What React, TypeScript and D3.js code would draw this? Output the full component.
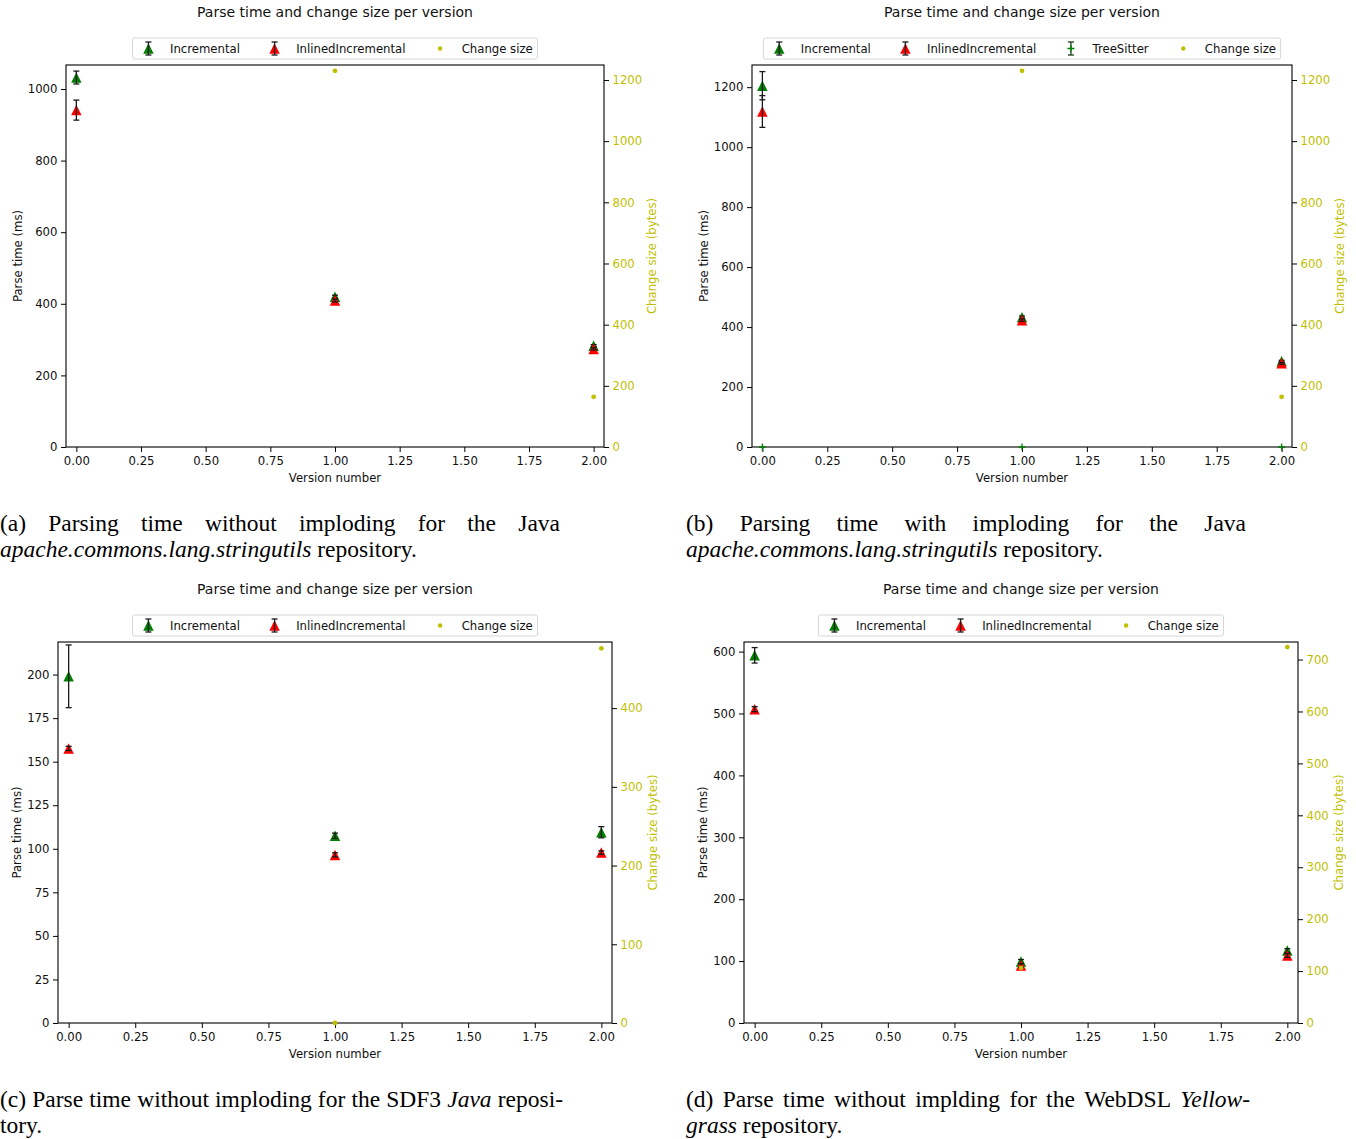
import React, { useEffect, useRef } from 'react';
import * as d3 from 'd3';

// ---------- data ----------
const versions = [0, 1, 2];
const xTickValues = [0, 0.25, 0.5, 0.75, 1, 1.25, 1.5, 1.75, 2];
const xDomain = [-0.04, 2.04];

// (a) Java, without imploding
const aIncremental = [1032, 420, 283];
const aIncrementalErr = [18, 4, 3];
const aInlined = [941, 409, 274];
const aInlinedErr = [28, 4, 3];
const aChangeVersions = [1, 2];
const aChangeSize = [1230, 164];
const aLeftTicks = [0, 200, 400, 600, 800, 1000];
const aRightTicks = [0, 200, 400, 600, 800, 1000, 1200];

// (b) Java, with imploding
const bIncremental = [1205, 433, 286];
const bIncrementalErr = [47, 4, 3];
const bInlined = [1119, 423, 279];
const bInlinedErr = [53, 4, 3];
const bTreeSitter = [0, 0, 0];
const bTreeSitterErr = [0, 0, 0];
const bChangeVersions = [1, 2];
const bChangeSize = [1230, 164];
const bLeftTicks = [0, 200, 400, 600, 800, 1000, 1200];
const bRightTicks = [0, 200, 400, 600, 800, 1000, 1200];

// (c) SDF3 Java
const cIncremental = [199, 107.5, 109.5];
const cIncrementalErr = [18, 1.5, 3.2];
const cInlined = [157.6, 96.5, 97.8];
const cInlinedErr = [1.2, 1.2, 1];
const cChangeVersions = [1, 2];
const cChangeSize = [0, 476];
const cLeftTicks = [0, 25, 50, 75, 100, 125, 150, 175, 200];
const cRightTicks = [0, 100, 200, 300, 400];

// (d) WebDSL Yellowgrass
const dIncremental = [594, 99.5, 117];
const dIncrementalErr = [12.5, 3, 3];
const dInlined = [507, 93, 109];
const dInlinedErr = [4, 3, 3];
const dChangeVersions = [1, 2];
const dChangeSize = [106, 724];
const dLeftTicks = [0, 100, 200, 300, 400, 500, 600];
const dRightTicks = [0, 100, 200, 300, 400, 500, 600, 700];

const titleText = 'Parse time and change size per version';
const xLabel = 'Version number';
const yLabel = 'Parse time (ms)';
const y2Label = 'Change size (bytes)';

const panels = [
  {
    box: { left: 66, right: 604, top: 65, bottom: 447 },
    yMax: 1067, y2Max: 1249,
    leftTicks: aLeftTicks, rightTicks: aRightTicks,
    inc: aIncremental, incErr: aIncrementalErr,
    inl: aInlined, inlErr: aInlinedErr,
    ts: null as number[] | null, tsErr: null as number[] | null,
    chV: aChangeVersions, ch: aChangeSize,
  },
  {
    box: { left: 752, right: 1292, top: 65, bottom: 447 },
    yMax: 1274, y2Max: 1249,
    leftTicks: bLeftTicks, rightTicks: bRightTicks,
    inc: bIncremental, incErr: bIncrementalErr,
    inl: bInlined, inlErr: bInlinedErr,
    ts: bTreeSitter, tsErr: bTreeSitterErr,
    chV: bChangeVersions, ch: bChangeSize,
  },
  {
    box: { left: 58, right: 612, top: 642, bottom: 1023 },
    yMax: 218.7, y2Max: 484,
    leftTicks: cLeftTicks, rightTicks: cRightTicks,
    inc: cIncremental, incErr: cIncrementalErr,
    inl: cInlined, inlErr: cInlinedErr,
    ts: null, tsErr: null,
    chV: cChangeVersions, ch: cChangeSize,
  },
  {
    box: { left: 744, right: 1298, top: 642, bottom: 1023 },
    yMax: 615.5, y2Max: 733.8,
    leftTicks: dLeftTicks, rightTicks: dRightTicks,
    inc: dIncremental, incErr: dIncrementalErr,
    inl: dInlined, inlErr: dInlinedErr,
    ts: null, tsErr: null,
    chV: dChangeVersions, ch: dChangeSize,
  },
];

type Seg = { t: string; it?: boolean };
const captions: { x: number; right: number; y: number; lines: Seg[][]; justify: boolean[] }[] = [
  {
    x: 0, right: 560, y: 531,
    lines: [
      [{ t: '(a)' }, { t: 'Parsing' }, { t: 'time' }, { t: 'without' }, { t: 'imploding' }, { t: 'for' }, { t: 'the' }, { t: 'Java' }],
      [{ t: 'apache.commons.lang.stringutils', it: true }, { t: 'repository.' }],
    ],
    justify: [true, false],
  },
  {
    x: 686, right: 1246, y: 531,
    lines: [
      [{ t: '(b)' }, { t: 'Parsing' }, { t: 'time' }, { t: 'with' }, { t: 'imploding' }, { t: 'for' }, { t: 'the' }, { t: 'Java' }],
      [{ t: 'apache.commons.lang.stringutils', it: true }, { t: 'repository.' }],
    ],
    justify: [true, false],
  },
  {
    x: 0, right: 563, y: 1107,
    lines: [
      [{ t: '(c)' }, { t: 'Parse' }, { t: 'time' }, { t: 'without' }, { t: 'imploding' }, { t: 'for' }, { t: 'the' }, { t: 'SDF3' }, { t: 'Java', it: true }, { t: 'reposi-' }],
      [{ t: 'tory.' }],
    ],
    justify: [true, false],
  },
  {
    x: 686, right: 1250, y: 1107,
    lines: [
      [{ t: '(d)' }, { t: 'Parse' }, { t: 'time' }, { t: 'without' }, { t: 'implding' }, { t: 'for' }, { t: 'the' }, { t: 'WebDSL' }, { t: 'Yellow-', it: true }],
      [{ t: 'grass', it: true }, { t: 'repository.' }],
    ],
    justify: [true, false],
  },
];

const FONT = 'DejaVu Sans, sans-serif';
const SERIF = 'Liberation Serif, Times New Roman, serif';
const TICK_FS = 11.7;
const GREEN = '#008000';
const RED = '#ff0000';
const YELLOW = '#bfbf00';
const ERR = '#1a1a1a';

function trianglePath(s: number) {
  const h = s / 2;
  return `M0,${-h}L${-h},${h}L${h},${h}Z`;
}

export default function App() {
  const ref = useRef<SVGSVGElement | null>(null);

  useEffect(() => {
    const svg = d3.select(ref.current);
    svg.selectAll('*').remove();

    const measure = (txt: string, fs: number, family: string, italic = false) => {
      const t = svg.append('text').attr('font-size', fs).attr('font-family', family)
        .attr('font-style', italic ? 'italic' : 'normal').text(txt);
      const w = (t.node() as SVGTextElement).getComputedTextLength();
      t.remove();
      return w;
    };

    const drawErr = (g: any, cx: number, y0: number, y1: number, color: string) => {
      g.append('line').attr('x1', cx).attr('x2', cx).attr('y1', y0).attr('y2', y1)
        .attr('stroke', color).attr('stroke-width', 1.3);
      [y0, y1].forEach((yy) => {
        g.append('line').attr('x1', cx - 3).attr('x2', cx + 3).attr('y1', yy).attr('y2', yy)
          .attr('stroke', color).attr('stroke-width', 1.3);
      });
    };

    panels.forEach((p) => {
      const { left, right, top, bottom } = p.box;
      const g = svg.append('g');
      const x = d3.scaleLinear().domain(xDomain).range([left, right]);
      const y = d3.scaleLinear().domain([0, p.yMax]).range([bottom, top]);
      const y2 = d3.scaleLinear().domain([0, p.y2Max]).range([bottom, top]);

      // axes
      const xa = g.append('g').attr('transform', `translate(0,${bottom})`)
        .call(d3.axisBottom(x).tickValues(xTickValues).tickFormat(d3.format('.2f')).tickSize(5).tickPadding(5));
      const ya = g.append('g').attr('transform', `translate(${left},0)`)
        .call(d3.axisLeft(y).tickValues(p.leftTicks).tickFormat(d3.format('d')).tickSize(5).tickPadding(3.5));
      const y2a = g.append('g').attr('transform', `translate(${right},0)`)
        .call(d3.axisRight(y2).tickValues(p.rightTicks).tickFormat(d3.format('d')).tickSize(5).tickPadding(3.5));
      [xa, ya, y2a].forEach((a) => {
        a.select('.domain').remove();
        a.selectAll('line').attr('stroke', '#000').attr('stroke-width', 1);
        a.selectAll('text').attr('font-size', TICK_FS).attr('font-family', FONT).attr('fill', '#111');
      });
      y2a.selectAll('text').attr('fill', YELLOW);

      // frame
      g.append('rect').attr('x', left).attr('y', top).attr('width', right - left).attr('height', bottom - top)
        .attr('fill', 'none').attr('stroke', '#000').attr('stroke-width', 1.1);

      // title
      const cx = (left + right) / 2;
      g.append('text').attr('x', cx).attr('y', top - 48).attr('text-anchor', 'middle')
        .attr('font-size', 14).attr('font-family', FONT).attr('fill', '#111').text(titleText);

      // axis labels
      g.append('text').attr('x', cx).attr('y', bottom + 35).attr('text-anchor', 'middle')
        .attr('font-size', TICK_FS).attr('font-family', FONT).attr('fill', '#111').text(xLabel);
      const maxL = d3.max(p.leftTicks, (t) => measure(String(t), TICK_FS, FONT)) as number;
      const lx = left - 8.5 - maxL - 10;
      g.append('text').attr('transform', `translate(${lx},${(top + bottom) / 2}) rotate(-90)`)
        .attr('text-anchor', 'middle').attr('dominant-baseline', 'central')
        .attr('font-size', TICK_FS).attr('font-family', FONT).attr('fill', '#111').text(yLabel);
      const maxR = d3.max(p.rightTicks, (t) => measure(String(t), TICK_FS, FONT)) as number;
      const rx = right + 8.5 + maxR + 10;
      g.append('text').attr('transform', `translate(${rx},${(top + bottom) / 2}) rotate(-90)`)
        .attr('text-anchor', 'middle').attr('dominant-baseline', 'central')
        .attr('font-size', TICK_FS).attr('font-family', FONT).attr('fill', YELLOW).text(y2Label);

      // data
      const tri = trianglePath(10.5);
      const series = [
        { v: p.inc, e: p.incErr, c: GREEN },
        { v: p.inl, e: p.inlErr, c: RED },
      ];
      series.forEach((s) => {
        versions.forEach((ver, i) => {
          g.append('path').attr('d', tri).attr('fill', s.c)
            .attr('transform', `translate(${x(ver)},${y(s.v[i])})`);
          drawErr(g, x(ver), y(s.v[i] + s.e[i]), y(s.v[i] - s.e[i]), ERR);
        });
      });
      if (p.ts && p.tsErr) {
        versions.forEach((ver, i) => {
          const px = x(ver), py = y(p.ts![i]);
          g.append('path').attr('d', `M${px - 3.5},${py}H${px + 3.5}M${px},${py - 3.5}V${py + 3.5}`)
            .attr('stroke', GREEN).attr('stroke-width', 1.3).attr('fill', 'none');
        });
      }
      p.chV.forEach((ver, i) => {
        g.append('circle').attr('cx', x(ver)).attr('cy', y2(p.ch[i])).attr('r', 2.4).attr('fill', YELLOW);
      });

      // legend
      const items: { label: string; kind: string }[] = [
        { label: 'Incremental', kind: 'inc' },
        { label: 'InlinedIncremental', kind: 'inl' },
      ];
      if (p.ts) items.push({ label: 'TreeSitter', kind: 'ts' });
      items.push({ label: 'Change size', kind: 'ch' });
      const fs = TICK_FS;
      const bp = 0.4 * fs, hl = 2 * fs, hp = 0.8 * fs, cs = 2 * fs;
      const widths = items.map((it) => measure(it.label, fs, FONT));
      const total = 2 * bp + d3.sum(widths) + items.length * (hl + hp) + (items.length - 1) * cs;
      const bx = cx - total / 2;
      const lyc = top - 16.5;
      g.append('rect').attr('x', bx).attr('y', lyc - 10.5).attr('width', total).attr('height', 21)
        .attr('rx', 2).attr('fill', '#fff').attr('stroke', '#d6d6d6').attr('stroke-width', 1);
      let cur = bx + bp;
      items.forEach((it, i) => {
        const mx = cur + hl / 2 - 0.5;
        if (it.kind === 'inc' || it.kind === 'inl') {
          g.append('path').attr('d', tri).attr('fill', it.kind === 'inc' ? GREEN : RED)
            .attr('transform', `translate(${mx},${lyc})`);
          drawErr(g, mx, lyc - 6.5, lyc + 6.5, ERR);
        } else if (it.kind === 'ts') {
          drawErr(g, mx, lyc - 6.5, lyc + 6.5, '#1d3d1d');
          g.append('path').attr('d', `M${mx - 3.5},${lyc}H${mx + 3.5}M${mx},${lyc - 3.5}V${lyc + 3.5}`)
            .attr('stroke', GREEN).attr('stroke-width', 1.3);
        } else {
          g.append('circle').attr('cx', mx).attr('cy', lyc).attr('r', 2.2).attr('fill', YELLOW);
        }
        g.append('text').attr('x', cur + hl + hp).attr('y', lyc).attr('dominant-baseline', 'central')
          .attr('font-size', fs).attr('font-family', FONT).attr('fill', '#111').text(it.label);
        cur += hl + hp + widths[i] + cs;
      });
    });

    // captions
    const CFS = 23.5;
    captions.forEach((c) => {
      c.lines.forEach((line, li) => {
        const yy = c.y + li * 26;
        const ws = line.map((s) => measure(s.t, CFS, SERIF, !!s.it));
        const spaceW = measure('a a', CFS, SERIF) - measure('aa', CFS, SERIF);
        let gap = spaceW;
        if (c.justify[li] && line.length > 1) {
          gap = (c.right - c.x - d3.sum(ws)) / (line.length - 1);
        }
        let cur = c.x;
        line.forEach((s, i) => {
          svg.append('text').attr('x', cur).attr('y', yy).attr('font-size', CFS)
            .attr('font-family', SERIF).attr('font-style', s.it ? 'italic' : 'normal')
            .attr('fill', '#000').text(s.t);
          cur += ws[i] + gap;
        });
      });
    });
  }, []);

  return (
    <svg
      ref={ref}
      width={1356}
      height={1139}
      style={{ position: 'absolute', left: 0, top: 0, background: '#fff' }}
    />
  );
}
